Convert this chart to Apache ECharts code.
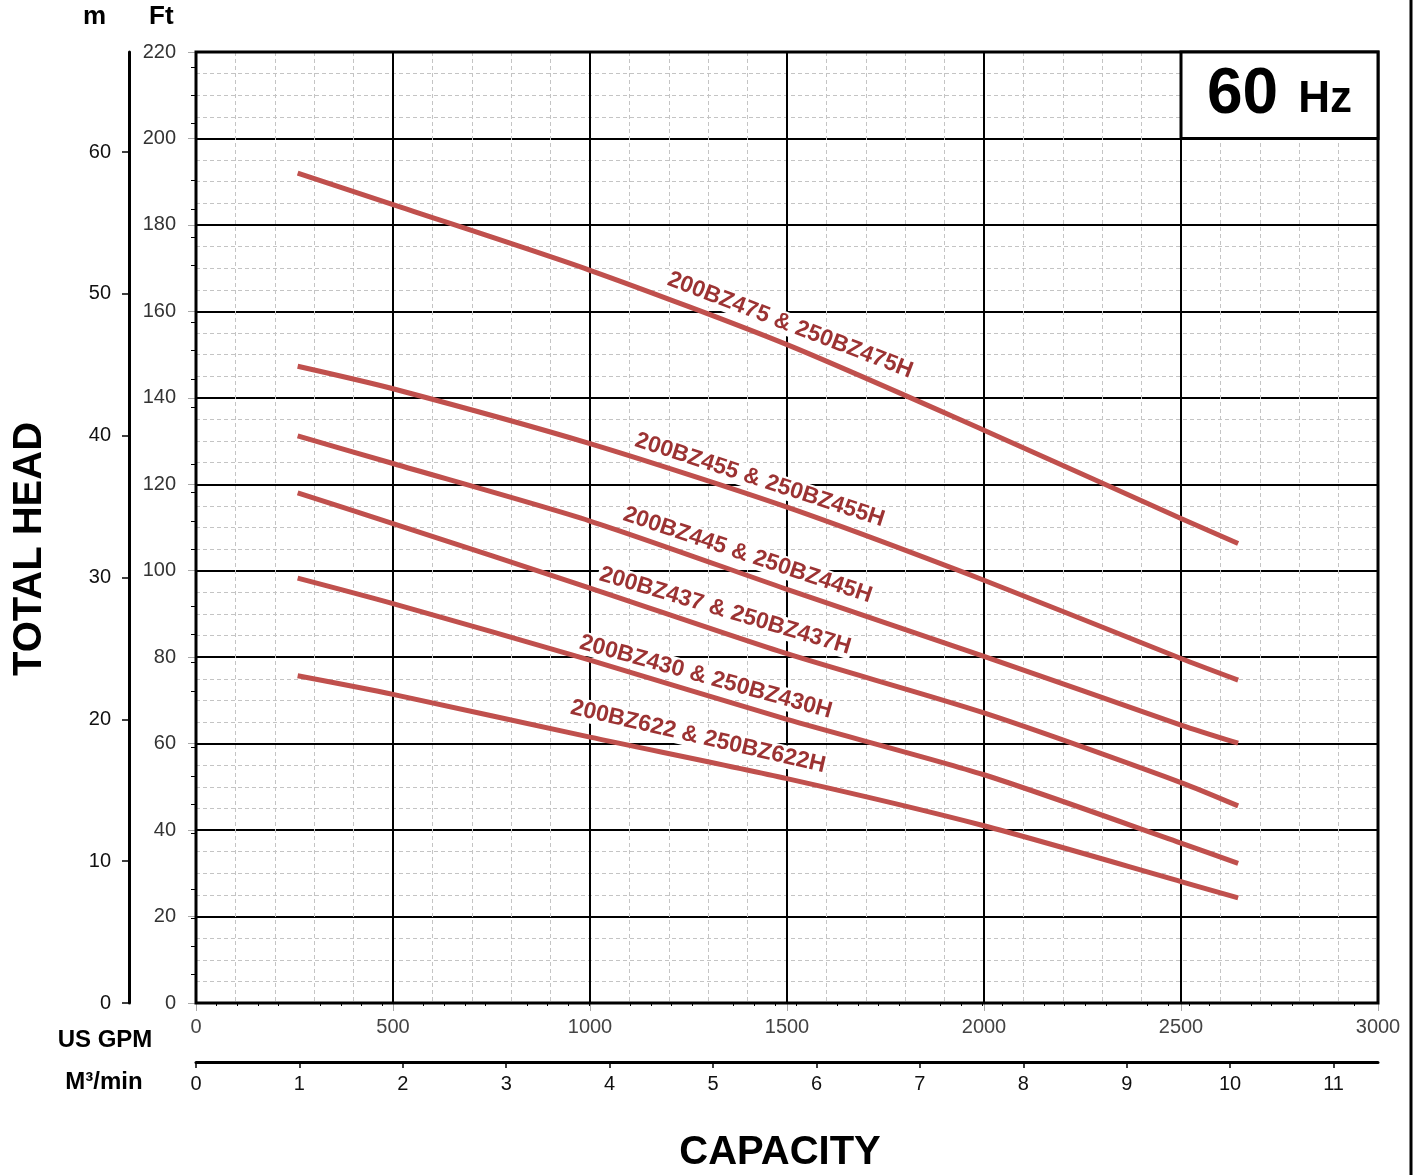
<!DOCTYPE html>
<html>
<head>
<meta charset="utf-8">
<script src="https://cdn.jsdelivr.net/npm/echarts@6/dist/echarts.min.js"></script>
<style>html,body{margin:0;padding:0;background:#fff}#c{width:1421px;height:1175px}</style>
</head>
<body>
<div id="c"></div>
<script>
// ---- data (US GPM, head in ft) ----
const seriesNames = [
  '200BZ475 & 250BZ475H',
  '200BZ455 & 250BZ455H',
  '200BZ445 & 250BZ445H',
  '200BZ437 & 250BZ437H',
  '200BZ430 & 250BZ430H',
  '200BZ622 & 250BZ622H'
];
const bz475 = [[258,192.0],[500,184.7],[1000,169.5],[1500,152.3],[2000,132.5],[2500,112.1],[2645,106.3]];
const bz455 = [[258,147.3],[500,142.1],[1000,129.4],[1500,114.7],[2000,97.8],[2500,79.7],[2645,74.7]];
const bz445 = [[258,131.2],[500,124.8],[1000,111.5],[1500,95.7],[2000,80.2],[2500,64.3],[2645,60.1]];
const bz437 = [[258,118.0],[500,110.9],[1000,96.0],[1500,80.8],[2000,67.1],[2500,51.0],[2645,45.6]];
const bz430 = [[258,98.3],[500,92.4],[1000,79.3],[1500,65.6],[2000,52.8],[2500,37.0],[2645,32.3]];
const bz622 = [[258,75.7],[500,71.4],[1000,61.5],[1500,51.9],[2000,41.0],[2500,28.1],[2645,24.3]];
const curves = [bz475, bz455, bz445, bz437, bz430, bz622];
// label anchor [GPM, ft] and rotation (deg)
const labelAt = [[1508,156.8],[1431,121.0],[1400,103.6],[1343,90.7],[1294,75.4],[1274,61.6]];
const labelRot = [21, 18, 18.5, 16.5, 15.5, 13];

// ---- axes ----
const gpmMax = 3000, gpmStep = 500;
const ftMax = 220, ftStep = 20;
const m3AxisMax = 11.43;           // M3/min scale as printed on the chart
const M_PER_FT = 0.3048;
const mMajorTicks = [0,10,20,30,40,50,60];
const mMinorTicks = [2,4,6,8,12,14,16,18,22,24,26,28,32,34,36,38,42,44,46,48,52,54,56,58,62,64,66];
const m3MajorTicks = [0,1,2,3,4,5,6,7,8,9,10,11];
const m3MinorTicks = [];
for (let i = 0; i <= 11; i++) for (let k = 1; k <= 4; k++) { const v = +(i + k*0.2).toFixed(1); if (v < 11.4) m3MinorTicks.push(v); }
const hzBox = [[2500,200],[3000,220]];

const FONT = '"Liberation Sans", Arial, sans-serif';
const lineColor = '#c0504d';
const labelColor = '#9c3333';

const chart = echarts.init(document.getElementById('c'), null, {renderer:'canvas'});

const series = curves.map((d, i) => {
  const s = {
    type: 'line', name: seriesNames[i], data: d, smooth: 0.25, showSymbol: false, symbol: 'none',
    xAxisIndex: 0, yAxisIndex: 0, z: 3,
    lineStyle: {color: lineColor, width: 5},
    markPoint: {
      silent: true, symbol: 'circle', symbolSize: 0, z: 4,
      data: [{coord: labelAt[i], name: seriesNames[i]}],
      label: {
        show: true, position: 'inside', formatter: seriesNames[i], rotate: -labelRot[i],
        color: labelColor, fontFamily: FONT, fontWeight: 'bold', fontSize: 23,
        backgroundColor: '#fff', padding: [0, 2]
      }
    }
  };
  if (i === 0) {
    s.markArea = {
      silent: true, z: 5,
      itemStyle: {color: '#fff', borderColor: '#000', borderWidth: 3},
      label: {
        show: true, position: 'inside', formatter: '{a|60}{b|Hz}',
        rich: {
          a: {fontFamily: FONT, fontWeight: 'bold', fontSize: 64, color: '#000'},
          b: {fontFamily: FONT, fontWeight: 'bold', fontSize: 44, color: '#000', padding: [10,0,0,20]}
        }
      },
      data: [[{coord: hzBox[0]}, {coord: hzBox[1]}]]
    };
  }
  return s;
});

const option = {
  animation: false,
  backgroundColor: '#fff',
  grid: {left: 196, right: 43, top: 52, bottom: 172, show: true, borderColor: '#000', borderWidth: 3, containLabel: false, outerBoundsMode: 'none', z: 1},
  xAxis: [
    {
      type: 'value', min: 0, max: gpmMax, interval: gpmStep, position: 'bottom',
      axisLine: {show: false},
      axisTick: {show: true, length: 8, lineStyle: {color: '#aaa', width: 1}},
      axisLabel: {color: '#444', fontFamily: FONT, fontSize: 20, margin: 14, formatter: v => String(v)},
      splitLine: {show: true, lineStyle: {color: '#000', width: 2}},
      minorTick: {show: false, splitNumber: 5},
      minorSplitLine: {show: true, lineStyle: {color: '#c4c4c4', width: 1, type: [4,3]}}
    },
    {
      type: 'value', min: 0, max: m3AxisMax, position: 'bottom', offset: 59,
      axisLine: {show: true, onZero: false, lineStyle: {color: '#000', width: 3}},
      axisTick: {show: true, length: 6, customValues: m3MajorTicks, lineStyle: {color: '#000', width: 1.5}},
      axisLabel: {show: true, customValues: m3MajorTicks, color: '#111', fontFamily: FONT, fontSize: 20, margin: 12},
      splitLine: {show: false}
    },
    {
      type: 'value', min: 0, max: m3AxisMax, position: 'bottom', offset: 59,
      axisLine: {show: false},
      axisTick: {show: true, length: 3, customValues: m3MinorTicks, lineStyle: {color: '#000', width: 1}},
      axisLabel: {show: false},
      splitLine: {show: false}
    }
  ],
  yAxis: [
    {
      type: 'value', min: 0, max: ftMax, interval: ftStep, position: 'left',
      axisLine: {show: false},
      axisTick: {show: true, length: 8, lineStyle: {color: '#aaa', width: 1}},
      axisLabel: {color: '#333', fontFamily: FONT, fontSize: 20, margin: 20},
      splitLine: {show: true, lineStyle: {color: '#000', width: 2}},
      minorTick: {show: false, splitNumber: 4},
      minorSplitLine: {show: true, lineStyle: {color: '#c4c4c4', width: 1, type: [4,3]}}
    },
    {
      type: 'value', min: 0, max: ftMax * M_PER_FT, position: 'left', offset: 67,
      axisLine: {show: true, onZero: false, lineStyle: {color: '#000', width: 3}},
      axisTick: {show: true, length: 7, customValues: mMajorTicks, lineStyle: {color: '#000', width: 1.5}},
      axisLabel: {show: true, customValues: mMajorTicks, color: '#111', fontFamily: FONT, fontSize: 20, margin: 18},
      splitLine: {show: false}
    },
    {
      type: 'value', min: 0, max: ftMax * M_PER_FT, position: 'left', offset: 67,
      axisLine: {show: false},
      axisTick: {show: true, length: 5, customValues: mMinorTicks, lineStyle: {color: '#000', width: 1}},
      axisLabel: {show: false},
      splitLine: {show: false}
    }
  ],
  series: series,
  graphic: [
    {type: 'text', left: 83, top: 4, style: {text: 'm', font: 'bold 26px ' + FONT, fill: '#000'}},
    {type: 'text', left: 149, top: 4, style: {text: 'Ft', font: 'bold 26px ' + FONT, fill: '#000'}},
    {type: 'text', x: 30, y: 549, rotation: Math.PI/2, style: {text: 'TOTAL HEAD', font: 'bold 40px ' + FONT, fill: '#000', align: 'center', verticalAlign: 'middle'}},
    {type: 'text', x: 105, y: 1040, style: {text: 'US GPM', font: 'bold 24px ' + FONT, fill: '#000', align: 'center', verticalAlign: 'middle'}},
    {type: 'text', x: 104, y: 1082, style: {text: 'M³/min', font: 'bold 24px ' + FONT, fill: '#000', align: 'center', verticalAlign: 'middle'}},
    {type: 'text', x: 780, y: 1153, style: {text: 'CAPACITY', font: 'bold 40px ' + FONT, fill: '#000', align: 'center', verticalAlign: 'middle'}},
    {type: 'line', shape: {x1: 1411, y1: 0, x2: 1411, y2: 1175}, style: {stroke: '#000', lineWidth: 3}}
  ]
};
chart.setOption(option);
</script>
</body>
</html>
